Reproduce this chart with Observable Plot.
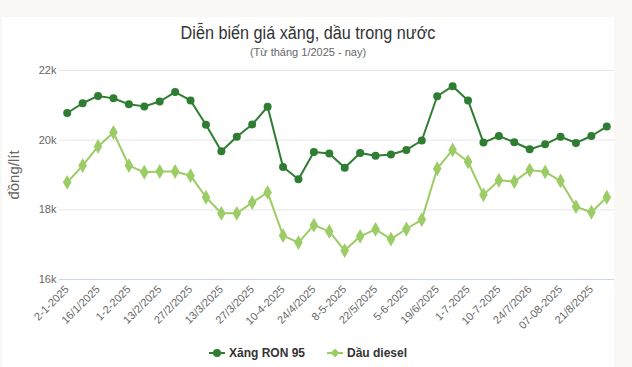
<!DOCTYPE html>
<html>
<head>
<meta charset="utf-8">
<script src="https://cdn.jsdelivr.net/npm/d3@7"></script>
<script src="https://cdn.jsdelivr.net/npm/@observablehq/plot@0.6"></script>
<style>
  html, body { margin: 0; padding: 0; background: #f9f8f4; overflow: hidden; }
  body { width: 632px; height: 367px; position: relative; font-family: "Liberation Sans", Arial, sans-serif; }
  #card { position: absolute; left: 2px; top: 17px; width: 612px; height: 350px; background: #fff; }
  #title { position: absolute; left: 0; width: 612px; top: 6px; text-align: center; font-size: 18px; color: #333; transform: scaleX(0.9); }
  #subtitle { position: absolute; left: 0; width: 612px; top: 29px; text-align: center; font-size: 11px; color: #666; }
  #ylabel { position: absolute; left: 11px; top: 158px; transform: translate(-50%, -50%) rotate(-90deg); font-size: 15px; color: #666; white-space: nowrap; }
  #chart { position: absolute; left: 0; top: 43px; }
  #legend { position: absolute; left: 0; width: 612px; top: 329px; display: flex; justify-content: center; gap: 22px; font-size: 12px; font-weight: bold; color: #333; }
  .item { display: flex; align-items: center; gap: 4px; }
</style>
</head>
<body>
<div id="card">
  <div id="title">Diễn biến giá xăng, dầu trong nước</div>
  <div id="subtitle">(Từ tháng 1/2025 - nay)</div>
  <div id="ylabel">đồng/lít</div>
  <div id="chart"></div>
  <div id="legend"></div>
</div>
<script>
const xTickLabels = ["2-1-2025","16/1/2025","1-2-2025","13/2/2025","27/2/2025","13/3/2025","27/3/2025","10-4-2025","24/4/2025","8-5-2025","22/5/2025","5-6-2025","19/6/2025","1-7-2025","10-7-2025","24/7/2026","07-08-2025","21/8/2025"];
const seriesNames = ["Xăng RON 95", "Dầu diesel"];
const seriesColors = ["#2e7d32", "#9ccc65"];
const ron95 = [20780,21060,21270,21200,21030,20970,21110,21380,21140,20440,19680,20100,20450,20960,19230,18880,19660,19620,19210,19630,19550,19590,19720,19990,21260,21550,21140,19930,20120,19940,19740,19880,20100,19920,20120,20390];
const diesel = [18790,19270,19820,20220,19270,19080,19100,19100,18980,18360,17900,17900,18210,18500,17260,17060,17560,17380,16830,17240,17440,17160,17450,17720,19180,19720,19380,18430,18850,18810,19140,19090,18830,18090,17930,18360];
const yTicks = [16000, 18000, 20000, 22000];

const idx = d3.range(ron95.length);
const ronData = idx.map(i => ({i, v: ron95[i]}));
const dieselData = idx.map(i => ({i, v: diesel[i]}));

const chart = Plot.plot({
  width: 612,
  height: 275,
  marginLeft: 57,
  marginRight: 0,
  marginTop: 10,
  marginBottom: 56,
  style: { fontFamily: "'Liberation Sans', Arial, sans-serif", fontSize: "11px", color: "#666", background: "transparent" },
  x: { type: "point", domain: idx, padding: 0.5, round: false },
  y: { domain: [16000, 22000] },
  marks: [
    Plot.ruleY(yTicks.slice(1), { stroke: "#e6e6e6" }),
    Plot.ruleY([yTicks[0]], { stroke: "#ccd6eb" }),
    Plot.axisY({ ticks: yTicks, tickSize: 0, tickPadding: 3, tickFormat: d => d / 1000 + "k", label: null, fill: "#666" }),
    Plot.axisX({ ticks: d3.range(0, ron95.length, 2), tickFormat: i => xTickLabels[i / 2], tickRotate: -45, tickSize: 0, tickPadding: 8, label: null, fill: "#666" }),
    Plot.line(dieselData, { x: "i", y: "v", stroke: seriesColors[1], strokeWidth: 2 }),
    Plot.dot(dieselData, { x: "i", y: "v", fill: seriesColors[1], symbol: "diamond", r: 4.5 }),
    Plot.line(ronData, { x: "i", y: "v", stroke: seriesColors[0], strokeWidth: 2 }),
    Plot.dot(ronData, { x: "i", y: "v", fill: seriesColors[0], symbol: "circle", r: 4 })
  ]
});
document.getElementById("chart").appendChild(chart);

const legend = document.getElementById("legend");
seriesNames.forEach((name, k) => {
  const item = document.createElement("div");
  item.className = "item";
  const marker = k === 0
    ? `<circle cx="8" cy="6" r="4" fill="${seriesColors[k]}"/>`
    : `<path d="M8,1.5 L12.5,6 L8,10.5 L3.5,6 Z" fill="${seriesColors[k]}"/>`;
  item.innerHTML = `<svg width="16" height="12"><line x1="0" y1="6" x2="16" y2="6" stroke="${seriesColors[k]}" stroke-width="2"/>${marker}</svg><span>${name}</span>`;
  legend.appendChild(item);
});
</script>
</body>
</html>
